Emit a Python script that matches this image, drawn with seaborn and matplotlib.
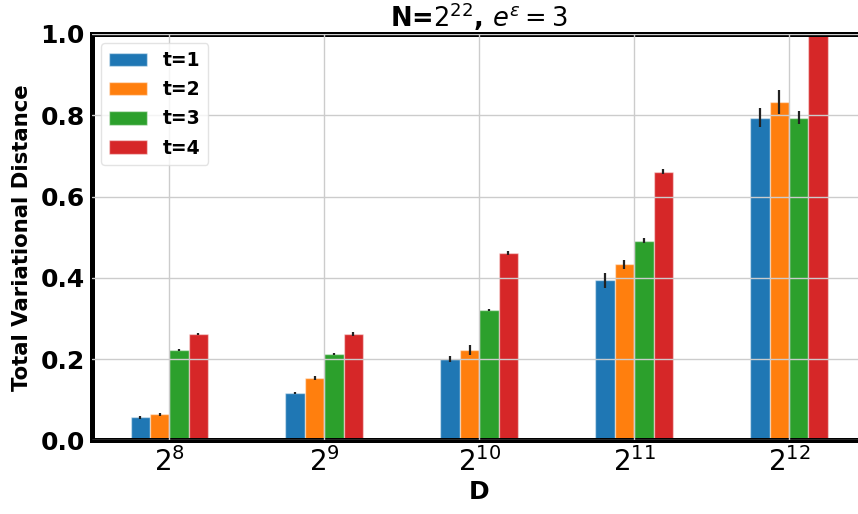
import matplotlib
matplotlib.use("Agg")
import matplotlib.pyplot as plt
import seaborn as sns
import pandas as pd
import numpy as np

# ---- data ----
d_labels = ["$2^{8}$", "$2^{9}$", "$2^{10}$", "$2^{11}$", "$2^{12}$"]
t_labels = ["t=1", "t=2", "t=3", "t=4"]
tvd_t1 = [0.057, 0.117, 0.200, 0.394, 0.794]
tvd_t2 = [0.064, 0.154, 0.223, 0.433, 0.832]
tvd_t3 = [0.223, 0.212, 0.321, 0.491, 0.794]
tvd_t4 = [0.262, 0.262, 0.462, 0.661, 1.05]
err_t1 = [0.004, 0.002, 0.008, 0.018, 0.023]
err_t2 = [0.003, 0.005, 0.012, 0.012, 0.029]
err_t3 = [0.002, 0.002, 0.003, 0.006, 0.016]
err_t4 = [0.002, 0.005, 0.005, 0.006, 0.02]

values = [tvd_t1, tvd_t2, tvd_t3, tvd_t4]
errors = [err_t1, err_t2, err_t3, err_t4]

rows = []
for t, vals, errs in zip(t_labels, values, errors):
    for d, v, e in zip(d_labels, vals, errs):
        rows.append({"D": d, "t": t, "TVD": v, "err": e})
df = pd.DataFrame(rows)

sns.set_style("white")
plt.rcParams["font.family"] = ["DejaVu Sans"]
plt.rcParams["text.color"] = "black"
plt.rcParams["axes.labelcolor"] = "black"
plt.rcParams["xtick.color"] = "black"
plt.rcParams["ytick.color"] = "black"

fig = plt.figure(figsize=(8.58, 5.14), dpi=100)
ax = fig.add_axes([0.107, 0.143, 0.903, 0.791])

palette = ["#1f77b4", "#ff7f0e", "#2ca02c", "#d62728"]
sns.barplot(data=df, x="D", y="TVD", hue="t", order=d_labels, hue_order=t_labels,
            palette=palette, errorbar=None, width=0.5, saturation=1,
            edgecolor=(1, 1, 1, 0.45), linewidth=1.0, ax=ax)

# error bars from bar positions
for cont, t in zip(ax.containers, t_labels):
    sub = df[df["t"] == t].set_index("D").loc[d_labels]
    xs = [p.get_x() + p.get_width() / 2 for p in cont.patches]
    ax.errorbar(xs, sub["TVD"].values, yerr=sub["err"].values, fmt="none",
                ecolor="#222222", elinewidth=1.6, capsize=0, zorder=5)

ax.set_xlim(-0.5, 4.5)
ax.set_ylim(0, 1.0)
ax.set_yticks([0.0, 0.2, 0.4, 0.6, 0.8, 1.0])
ax.set_yticklabels(["0.0", "0.2", "0.4", "0.6", "0.8", "1.0"], fontsize=18, fontweight="bold")
ax.tick_params(axis="x", labelsize=20, length=3, color="#888888", labelcolor="black", pad=2)
ax.tick_params(axis="y", length=3, color="#888888", labelcolor="black", pad=2)

ax.grid(True, color="#cccccc", linewidth=1.0)
ax.set_axisbelow(False)

for side in ["left", "bottom", "top"]:
    ax.spines[side].set_linewidth(3.6)
    ax.spines[side].set_color("black")
ax.spines["right"].set_visible(False)

ax.set_xlabel("D", fontsize=18, fontweight="bold", labelpad=2, color="black")
ax.set_ylabel("Total Variational Distance", fontsize=15.3, fontweight="bold", labelpad=6, color="black")
ax.set_title(r"N=$2^{22}$, $e^{\varepsilon}=3$", fontsize=18.5, fontweight="bold", pad=5, color="black")

leg = ax.legend(loc="upper left", prop={"weight": "bold", "size": 13.5},
                handlelength=2.05, handleheight=0.72, labelspacing=0.55,
                handletextpad=0.85, borderpad=0.4, frameon=True, title=None)
leg.get_frame().set_edgecolor("#dddddd")
for h in leg.legend_handles:
    h.set_edgecolor((1, 1, 1, 0.45))
for txt in leg.get_texts():
    txt.set_color("black")

fig.savefig("out.png", dpi=100)
